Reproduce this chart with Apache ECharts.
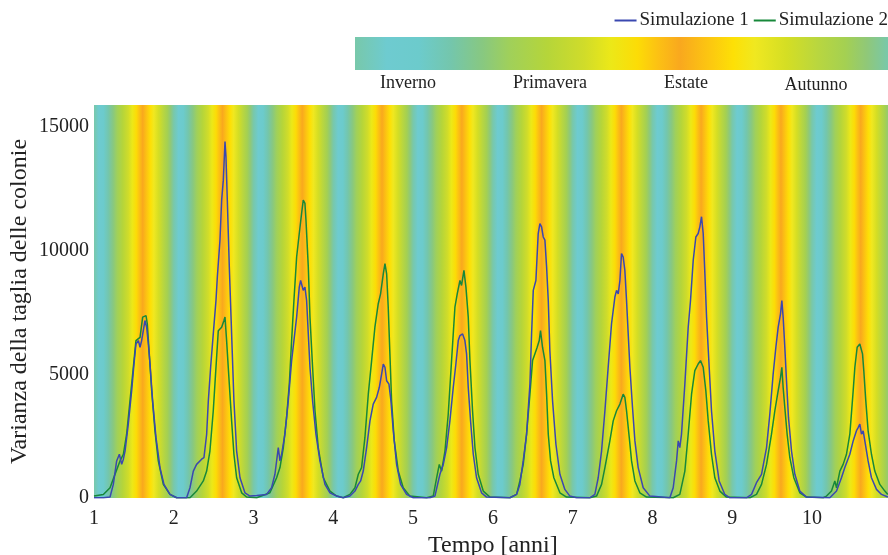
<!DOCTYPE html>
<html>
<head>
<meta charset="utf-8">
<script src="https://cdn.jsdelivr.net/npm/echarts@6/dist/echarts.min.js"></script>
<style>
html,body{margin:0;padding:0;background:#fff;}
#chart{width:888px;height:555px;}
</style>
</head>
<body>
<div id="chart"></div>
<script>
// ---- data ----
const seriesNames = ['Simulazione 1', 'Simulazione 2'];
const seasonLabels = ['Inverno', 'Primavera', 'Estate', 'Autunno'];
const yearStart = 1;
const yearCount = 10;
const xTicks = [1, 2, 3, 4, 5, 6, 7, 8, 9, 10];
const yTicks = [0, 5000, 10000, 15000];

const sim1 = [
[1.000,10],[1.117,10],[1.201,40],[1.242,550],[1.284,1500],[1.318,1770],[1.347,1360],[1.368,1570],[1.389,1900],[1.430,3000],[1.472,4340],[1.501,5420],[1.526,6230],[1.556,6370],[1.577,6100],[1.597,6370],[1.618,6770],[1.639,7180],[1.660,6910],[1.681,6230],[1.702,5420],[1.735,3930],[1.777,2450],[1.827,1230],[1.877,550],[1.952,145],[2.036,10],
[2.161,10],[2.203,415],[2.245,1090],[2.286,1360],[2.349,1570],[2.378,1630],[2.412,2580],[2.433,3930],[2.462,5290],[2.495,6640],[2.529,7990],[2.546,8940],[2.579,10430],[2.600,12050],[2.621,12860],[2.642,14420],[2.654,13810],[2.671,12050],[2.696,9350],[2.725,6640],[2.754,3930],[2.788,1900],[2.830,820],[2.892,210],[2.955,80],[3.039,100],
[3.164,145],[3.226,415],[3.268,960],[3.310,2040],[3.331,1500],[3.352,1770],[3.393,2580],[3.435,3930],[3.477,5560],[3.506,6370],[3.540,7320],[3.573,8530],[3.590,8800],[3.623,8400],[3.644,8530],[3.665,7990],[3.686,6640],[3.707,5290],[3.740,3930],[3.782,2580],[3.832,1500],[3.895,550],[3.958,210],[4.041,80],
[4.124,10],[4.208,80],[4.271,280],[4.313,550],[4.342,690],[4.375,1090],[4.417,2040],[4.459,3120],[4.500,3800],[4.542,4070],[4.576,4470],[4.605,5015],[4.626,5420],[4.647,5290],[4.668,4745],[4.697,4610],[4.722,3930],[4.751,2720],[4.793,1360],[4.843,550],[4.918,145],[5.002,10],
[5.210,10],[5.273,77],[5.336,960],[5.378,1360],[5.420,2040],[5.461,3120],[5.503,4470],[5.536,5420],[5.566,6370],[5.587,6570],[5.620,6640],[5.649,6370],[5.670,5830],[5.691,4470],[5.720,3120],[5.754,1770],[5.795,820],[5.858,210],[5.921,37],
[6.213,10],[6.297,145],[6.338,550],[6.380,1500],[6.422,2580],[6.464,4610],[6.485,6640],[6.506,8400],[6.539,8800],[6.568,10700],[6.589,11100],[6.610,10970],[6.631,10560],[6.652,10430],[6.673,9345],[6.694,7990],[6.714,5960],[6.748,3930],[6.790,2175],[6.840,960],[6.902,348],[6.965,77],[7.049,10],
[7.216,10],[7.278,145],[7.320,820],[7.362,1900],[7.404,3530],[7.445,5290],[7.487,7050],[7.529,8130],[7.550,8400],[7.571,8260],[7.592,8800],[7.612,9890],[7.633,9750],[7.654,9210],[7.675,7990],[7.696,6640],[7.717,5290],[7.750,3660],[7.780,2310],[7.821,1230],[7.884,415],[7.968,77],
[8.218,10],[8.260,415],[8.302,1500],[8.323,2310],[8.343,2040],[8.364,2580],[8.406,4610],[8.448,6910],[8.477,7990],[8.511,9620],[8.544,10560],[8.573,10700],[8.594,10970],[8.615,11380],[8.636,10700],[8.657,9070],[8.678,7320],[8.711,5290],[8.740,3530],[8.782,1900],[8.836,690],[8.907,145],[8.970,10],
[9.179,10],[9.242,145],[9.304,620],[9.325,690],[9.367,960],[9.430,2040],[9.471,3390],[9.513,5015],[9.547,6100],[9.576,6910],[9.605,7450],[9.622,7990],[9.638,7320],[9.659,6100],[9.680,4745],[9.705,3260],[9.743,1900],[9.785,960],[9.847,280],[9.931,37],
[10.223,10],[10.307,280],[10.369,820],[10.411,1230],[10.474,1770],[10.516,2310],[10.557,2720],[10.578,2850],[10.599,2990],[10.620,2580],[10.641,2720],[10.662,2310],[10.703,1500],[10.745,820],[10.808,348],[10.871,145],[10.950,37]
];

const sim2 = [
[1.000,77],[1.117,145],[1.201,415],[1.263,956],[1.326,1500],[1.368,1770],[1.409,2580],[1.451,3930],[1.493,5290],[1.526,6370],[1.577,6500],[1.610,7320],[1.652,7380],[1.668,7050],[1.693,5830],[1.723,4340],[1.764,2720],[1.806,1500],[1.869,550],[1.952,145],[2.036,10],
[2.203,10],[2.286,280],[2.370,690],[2.412,1090],[2.453,1900],[2.495,3530],[2.529,5290],[2.558,6770],[2.600,6910],[2.629,7180],[2.642,7320],[2.662,6370],[2.696,4610],[2.725,3120],[2.754,1770],[2.788,820],[2.851,210],[2.913,40],[3.039,10],
[3.205,210],[3.289,821],[3.331,1230],[3.373,2040],[3.414,3260],[3.448,4610],[3.477,6370],[3.506,7990],[3.540,9750],[3.573,10700],[3.602,11510],[3.623,12050],[3.644,11920],[3.657,11240],[3.686,9350],[3.707,7320],[3.740,5290],[3.770,3530],[3.811,2040],[3.874,820],[3.958,280],[4.041,80],
[4.124,10],[4.208,145],[4.271,415],[4.313,960],[4.354,1230],[4.396,2450],[4.438,4200],[4.480,5560],[4.521,6910],[4.563,7860],[4.592,8260],[4.626,9070],[4.647,9480],[4.668,9070],[4.688,7720],[4.709,5830],[4.730,3930],[4.764,2310],[4.814,1090],[4.876,415],[4.960,77],
[5.169,10],[5.252,77],[5.294,800],[5.328,1360],[5.357,1090],[5.399,1900],[5.440,3390],[5.482,5560],[5.524,7720],[5.553,8260],[5.587,8800],[5.607,8600],[5.637,9210],[5.662,8530],[5.691,7320],[5.712,5560],[5.745,3530],[5.775,2040],[5.816,960],[5.879,280],[5.963,37],
[6.213,10],[6.297,145],[6.338,690],[6.380,1360],[6.422,2580],[6.464,4200],[6.497,5560],[6.526,5830],[6.555,6100],[6.581,6370],[6.597,6770],[6.622,6100],[6.652,5560],[6.673,4200],[6.694,2580],[6.723,1500],[6.764,820],[6.840,212],[6.923,37],
[7.216,10],[7.299,77],[7.362,550],[7.404,1230],[7.466,2310],[7.508,3120],[7.550,3530],[7.592,3800],[7.633,4200],[7.654,4070],[7.675,3530],[7.709,2450],[7.738,1500],[7.780,690],[7.842,212],[7.926,37],
[8.260,10],[8.343,145],[8.406,1090],[8.448,2580],[8.490,4200],[8.531,5150],[8.573,5420],[8.602,5560],[8.636,5290],[8.669,4340],[8.699,3120],[8.740,1770],[8.782,820],[8.845,280],[8.928,37],
[9.221,10],[9.304,145],[9.367,550],[9.430,1360],[9.492,2580],[9.534,3530],[9.576,4340],[9.605,4880],[9.622,5290],[9.638,4470],[9.659,3660],[9.688,2580],[9.722,1630],[9.772,821],[9.847,212],[9.931,37],
[10.140,10],[10.182,77],[10.244,280],[10.286,686],[10.307,415],[10.349,1090],[10.390,1360],[10.432,1770],[10.474,2580],[10.516,4340],[10.537,5290],[10.566,6100],[10.599,6230],[10.633,5830],[10.649,5150],[10.674,3930],[10.703,2720],[10.745,1770],[10.787,1090],[10.850,550],[10.913,280],[10.950,145]
];

// ---- styling ----
const FONT = '"Liberation Serif", "DejaVu Serif", serif';
const TXT = '#222';
const seasonStops = [
  [0.00,'#78c8aa'],[0.06,'#6ecbd0'],[0.12,'#6ccbcc'],[0.18,'#74c6ac'],[0.24,'#88c880'],
  [0.29,'#a0d05a'],[0.36,'#b5d53a'],[0.43,'#d0dc2a'],[0.48,'#ece818'],[0.53,'#fcdc06'],
  [0.57,'#fcc014'],[0.61,'#f9a81e'],[0.66,'#fcc412'],[0.71,'#fde006'],[0.75,'#f0e820'],
  [0.81,'#d4de24'],[0.87,'#b8d640'],[0.92,'#a4d052'],[0.96,'#90c878'],[1.00,'#78c8aa']
];
function grad(reps){
  const stops = [];
  for (let k = 0; k < reps; k++) {
    seasonStops.forEach(s => stops.push({offset: (k + s[0]) / reps, color: s[1]}));
  }
  return {type:'linear', x:0, y:0, x2:1, y2:0, colorStops: stops};
}
const labelStyle = {font: '18px ' + FONT, fill: TXT, textAlign: 'center', textVerticalAlign: 'middle'};

const chart = echarts.init(document.getElementById('chart'), null, {renderer:'canvas'});
const option = {
  animation: false,
  backgroundColor: '#fff',
  grid: {left: 94, top: 105, width: 797.8, height: 393, containLabel: false, outerBoundsMode: 'none'},
  legend: {
    data: seriesNames,
    right: 0, top: 11, padding: 0,
    itemWidth: 22, itemHeight: 2, itemGap: 5,
    icon: 'rect',
    textStyle: {fontFamily: FONT, fontSize: 19, color: TXT, padding: [0,0,0,-2]}
  },
  xAxis: {
    type: 'value', min: yearStart, max: yearStart + yearCount, interval: 1,
    name: 'Tempo [anni]', nameLocation: 'middle', nameGap: 36,
    nameTextStyle: {fontFamily: FONT, fontSize: 24, color: TXT},
    axisLine: {show: false}, axisTick: {show: false}, splitLine: {show: false},
    axisLabel: {fontFamily: FONT, fontSize: 20, color: TXT, margin: 11, showMaxLabel: false,
      formatter: v => xTicks.indexOf(v) >= 0 ? String(v) : ''}
  },
  yAxis: {
    type: 'value', min: 0, max: 15900, interval: 5000,
    name: 'Varianza della taglia delle colonie', nameLocation: 'middle', nameGap: 62, nameRotate: 90,
    nameMoveOverlap: false,
    nameTextStyle: {fontFamily: FONT, fontSize: 24, color: TXT},
    axisLine: {show: false}, axisTick: {show: false}, splitLine: {show: false},
    axisLabel: {fontFamily: FONT, fontSize: 20, color: TXT, margin: 5, showMaxLabel: false,
      formatter: v => yTicks.indexOf(v) >= 0 ? String(v) : ''}
  },
  series: [
    {
      name: 'bg', type: 'line', data: [], silent: true, z: 0,
      markArea: {
        silent: true,
        data: [[{xAxis: yearStart, itemStyle: {color: grad(yearCount), opacity: 1}}, {xAxis: yearStart + yearCount}]]
      }
    },
    {
      name: seriesNames[0], type: 'line', data: sim1, showSymbol: false, symbol: 'none', z: 3,
      lineStyle: {color: '#3a48b0', width: 1.5}, itemStyle: {color: '#3a48b0'}
    },
    {
      name: seriesNames[1], type: 'line', data: sim2, showSymbol: false, symbol: 'none', z: 2,
      lineStyle: {color: '#17883a', width: 1.5}, itemStyle: {color: '#17883a'}
    }
  ],
  graphic: [
    {type: 'rect', left: 355, top: 37, shape: {width: 533, height: 33}, style: {fill: grad(1)}},
    {type: 'text', x: 408, y: 83, style: Object.assign({text: seasonLabels[0]}, labelStyle)},
    {type: 'text', x: 550, y: 83, style: Object.assign({text: seasonLabels[1]}, labelStyle)},
    {type: 'text', x: 686, y: 83, style: Object.assign({text: seasonLabels[2]}, labelStyle)},
    {type: 'text', x: 816, y: 85, style: Object.assign({text: seasonLabels[3]}, labelStyle)}
  ]
};
chart.setOption(option);
</script>
</body>
</html>
